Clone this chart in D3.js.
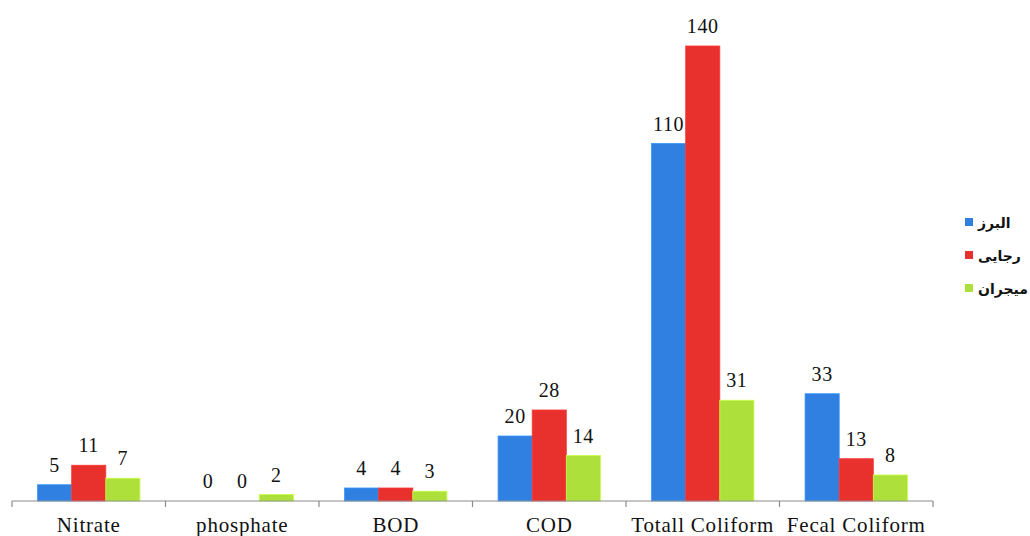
<!DOCTYPE html>
<html>
<head>
<meta charset="utf-8">
<script src="https://cdn.jsdelivr.net/npm/d3@7"></script>
<style>
  html, body { margin: 0; padding: 0; background: #fff; }
  svg { display: block; }
</style>
</head>
<body>
<svg id="chart" width="1030" height="536"></svg>
<script>
// Water quality parameters per sampling station
const categories = ["Nitrate", "phosphate", "BOD", "COD", "Totall Coliform", "Fecal Coliform"];
const seriesNames = ["البرز", "رجایی", "میجران"];
const alborz  = [5, 0, 4, 20, 110, 33];
const rajaei  = [11, 0, 4, 28, 140, 13];
const mijran  = [7, 2, 3, 14, 31, 8];
const seriesValues = [alborz, rajaei, mijran];
const colors = ["#2f80e1", "#e8302d", "#ade03b"];

const svg = d3.select("#chart");
const left = 12, right = 933, baseY = 501, topY = 46;
const serif = "'Liberation Serif', 'Times New Roman', serif";

const x0 = d3.scaleBand().domain(categories).range([left, right]).paddingInner(0).paddingOuter(0);
const innerPad = x0.bandwidth() * (0.5 / 1.5) / 2;
const x1 = d3.scaleBand().domain(d3.range(seriesNames.length))
  .range([innerPad, x0.bandwidth() - innerPad]).padding(0);
const y = d3.scaleLinear().domain([0, 140]).range([baseY, topY]);

const rows = categories.map((c, i) => ({
  cat: c,
  vals: seriesValues.map((s, k) => ({ k, v: s[i] }))
}));

const groups = svg.append("g").selectAll("g").data(rows).join("g")
  .attr("transform", d => `translate(${x0(d.cat)},0)`);

groups.selectAll("rect").data(d => d.vals).join("rect")
  .attr("x", d => x1(d.k))
  .attr("width", x1.bandwidth())
  .attr("y", d => y(d.v))
  .attr("height", d => baseY - y(d.v))
  .attr("fill", d => colors[d.k])
  .attr("stroke", d => d3.color(colors[d.k]).brighter(0.4))
  .attr("stroke-width", 0.8);

groups.selectAll("text").data(d => d.vals).join("text")
  .attr("x", d => x1(d.k) + x1.bandwidth() / 2)
  .attr("y", d => y(d.v) - 13)
  .attr("text-anchor", "middle")
  .attr("font-family", serif)
  .attr("font-size", 20)
  .attr("letter-spacing", 0.6)
  .attr("fill", "#111")
  .text(d => d.v);

// category axis along the bottom
const axis = svg.append("g").attr("transform", `translate(0,${baseY})`)
  .call(d3.axisBottom(x0).tickSize(0).tickPadding(0));
axis.select(".domain").attr("stroke", "#8c8c8c").attr("stroke-width", 1.2)
  .attr("d", `M${left},0H${right}`);
axis.selectAll(".tick text")
  .attr("y", 31)
  .attr("dy", 0)
  .attr("font-family", serif)
  .attr("font-size", 21)
  .attr("letter-spacing", 0.8)
  .attr("fill", "#111");
const boundaries = categories.map(c => x0(c)).concat([right]);
axis.selectAll("line.sep").data(boundaries).join("line")
  .attr("class", "sep")
  .attr("x1", d => d).attr("x2", d => d)
  .attr("y1", 0).attr("y2", 6)
  .attr("stroke", "#8c8c8c").attr("stroke-width", 1.2);

// legend
const legend = svg.append("g").selectAll("g").data(seriesNames).join("g")
  .attr("transform", (d, i) => `translate(965,${218 + i * 33})`);
legend.append("rect")
  .attr("width", 8).attr("height", 8)
  .attr("fill", (d, i) => colors[i]);
legend.append("text")
  .attr("x", 13).attr("y", 10)
  .attr("font-family", "'DejaVu Sans', sans-serif")
  .attr("font-size", 14)
  .attr("font-weight", "bold")
  .attr("fill", "#111")
  .text(d => d);
</script>
</body>
</html>
